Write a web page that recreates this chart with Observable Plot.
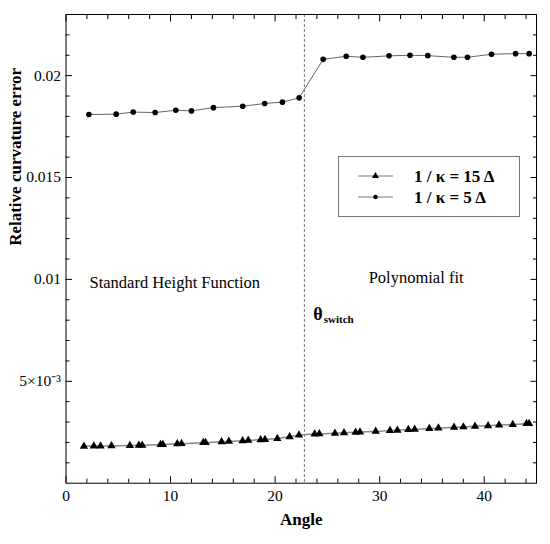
<!DOCTYPE html>
<html><head><meta charset="utf-8">
<script src="https://cdn.jsdelivr.net/npm/d3@7"></script>
<script src="https://cdn.jsdelivr.net/npm/@observablehq/plot@0.6"></script>
<style>
body{margin:0;background:#fff}
#wrap{position:relative;width:550px;height:544px}
</style>
</head><body><div id="wrap"></div>
<script>
// 1/κ = 5Δ (circles)
const angle5 = [2.19,4.8,6.43,8.53,10.5,12.0,14.1,16.9,19.0,20.7,22.3,24.6,26.8,28.4,30.9,32.9,34.6,37.1,38.4,40.7,43.0,44.3];
const err5   = [0.01809,0.01811,0.01821,0.01819,0.01830,0.01827,0.01843,0.01850,0.01863,0.01870,0.01891,0.02080,0.02095,0.02090,0.02097,0.02100,0.02098,0.02090,0.02090,0.02105,0.02108,0.02108];
// 1/κ = 15Δ (triangles)
const angle15 = [1.71,2.66,3.30,4.35,6.11,6.97,7.29,9.04,9.27,10.64,11.05,13.13,13.35,14.88,15.58,16.89,17.43,18.61,19.03,20.21,21.39,22.28,23.78,24.23,25.72,26.59,27.70,28.12,29.62,30.99,31.69,32.74,33.35,34.75,35.62,37.11,38.01,39.12,40.37,41.42,42.73,44.04,44.29];
const err15   = [0.00181,0.00182,0.00182,0.00183,0.00185,0.00186,0.00186,0.00190,0.00190,0.00193,0.00194,0.00199,0.00199,0.00203,0.00205,0.00208,0.00210,0.00213,0.00214,0.00219,0.00228,0.00236,0.00241,0.00242,0.00245,0.00247,0.00250,0.00251,0.00254,0.00258,0.00260,0.00263,0.00264,0.00268,0.00270,0.00274,0.00276,0.00279,0.00282,0.00285,0.00288,0.00292,0.00292];

const xMajor = [0,10,20,30,40];
const xTickLabels = ["0","10","20","30","40"];
const xMinor = [2,4,6,8,12,14,16,18,22,24,26,28,32,34,36,38,42,44];
const yMajor = [0.005,0.01,0.015,0.02];
const yTickLabels = ["5×10⁻³","0.01","0.015","0.02"];
const yMinor = [0.001,0.002,0.003,0.004,0.006,0.007,0.008,0.009,0.011,0.012,0.013,0.014,0.016,0.017,0.018,0.019,0.021,0.022];
const switchAngle = 22.8;
const seriesLabels = ["1 / κ = 15 Δ","1 / κ = 5 Δ"];

const s5 = angle5.map((a,i)=>({a, e: err5[i]}));
const s15 = angle15.map((a,i)=>({a, e: err15[i]}));
const xT = xMajor.map((v,i)=>({v, t: xTickLabels[i]}));
const yT = yMajor.map((v,i)=>({v, t: yTickLabels[i]}));

const serif = "Liberation Serif";
const minorLen = 4, majorLen = 6.5;
const blank = () => "";

const chart = Plot.plot({
  width: 550, height: 544,
  marginLeft: 65.5, marginRight: 14, marginTop: 14, marginBottom: 61.3,
  style: {fontFamily: serif, fontSize: "16px", color: "#000", background: "#fff"},
  x: {domain: [0,45], axis: null},
  y: {domain: [0,0.023], axis: null},
  marks: [
    // inward ticks on all four sides
    Plot.axisX({ticks: xMinor, anchor: "bottom", tickSize: minorLen, dy: -minorLen, tickFormat: blank, label: null}),
    Plot.axisX({ticks: xMajor, anchor: "bottom", tickSize: majorLen, dy: -majorLen, tickFormat: blank, label: null}),
    Plot.axisX({ticks: xMinor, anchor: "top", tickSize: minorLen, dy: minorLen, tickFormat: blank, label: null}),
    Plot.axisX({ticks: xMajor, anchor: "top", tickSize: majorLen, dy: majorLen, tickFormat: blank, label: null}),
    Plot.axisY({ticks: yMinor, anchor: "left", tickSize: minorLen, dx: minorLen, tickFormat: blank, label: null}),
    Plot.axisY({ticks: yMajor, anchor: "left", tickSize: majorLen, dx: majorLen, tickFormat: blank, label: null}),
    Plot.axisY({ticks: yMinor, anchor: "right", tickSize: minorLen, dx: -minorLen, tickFormat: blank, label: null}),
    Plot.axisY({ticks: yMajor, anchor: "right", tickSize: majorLen, dx: -majorLen, tickFormat: blank, label: null}),
    // tick labels
    Plot.text(xT, {x: "v", frameAnchor: "bottom", dy: 18, text: "t",
      fontSize: "15.5px", fontFamily: serif, fill: "#000"}),
    Plot.text(yT, {y: "v", frameAnchor: "left", dx: -5, textAnchor: "end", text: "t",
      fontSize: "15.5px", fontFamily: serif, fill: "#000"}),
    // axis titles
    Plot.text(["Angle"], {frameAnchor: "bottom", dy: 42, fontWeight: "bold", fontSize: 17, fontFamily: serif}),
    Plot.text(["Relative curvature error"], {frameAnchor: "left", dx: -50.5, dy: -3, rotate: -90, fontWeight: "bold", fontSize: 17, fontFamily: serif}),
    // switch line
    Plot.ruleX([switchAngle], {stroke: "#777", strokeWidth: 1, strokeDasharray: "3,2"}),
    // series
    Plot.line(s15, {x: "a", y: "e", stroke: "#888", strokeWidth: 1.5}),
    Plot.dot(s15, {x: "a", y: "e", symbol: "triangle", r: 3.1, fill: "#000", stroke: "none"}),
    Plot.line(s5, {x: "a", y: "e", stroke: "#666", strokeWidth: 1}),
    Plot.dot(s5, {x: "a", y: "e", symbol: "circle", r: 2.8, fill: "#000", stroke: "none"}),
    // annotations
    Plot.text(["Standard Height Function"], {x: 2.25, y: 0.00983, textAnchor: "start", fontSize: 16.5, fontFamily: serif}),
    Plot.text(["Polynomial fit"], {x: 28.95, y: 0.0101, textAnchor: "start", fontSize: 16.5, fontFamily: serif}),
    Plot.text(["θ"], {x: 23.65, y: 0.00827, textAnchor: "start", fontSize: 18, fontWeight: "bold", fontFamily: serif}),
    Plot.text(["switch"], {x: 23.65, y: 0.00827, dx: 10.5, dy: 5, textAnchor: "start", fontSize: 11, fontWeight: "bold", fontFamily: serif}),
    Plot.frame({stroke: "#000", strokeWidth: 1})
  ]
});
document.getElementById("wrap").appendChild(chart);

// legend overlay
const lg = d3.select("#wrap").append("svg")
  .style("position","absolute").style("left","338px").style("top","156px")
  .attr("width",183).attr("height",62);
lg.append("rect").attr("x",0.5).attr("y",0.5).attr("width",181).attr("height",60)
  .attr("fill","#fff").attr("stroke","#777").attr("stroke-width",1);
const rows = [{y: 20, sym: d3.symbolTriangle, size: 22}, {y: 41, sym: d3.symbolCircle, size: 16}];
rows.forEach((r,i) => {
  lg.append("line").attr("x1",20).attr("x2",55).attr("y1",r.y).attr("y2",r.y).attr("stroke","#777").attr("stroke-width",1);
  lg.append("path").attr("d", d3.symbol(r.sym, r.size)()).attr("transform",`translate(37.5,${r.y})`).attr("fill","#000");
  lg.append("text").attr("x",76).attr("y",r.y).attr("dy","0.35em")
    .style("font-family",serif).style("font-weight","bold").style("font-size","17px")
    .text(seriesLabels[i]);
});
</script>
</body></html>
